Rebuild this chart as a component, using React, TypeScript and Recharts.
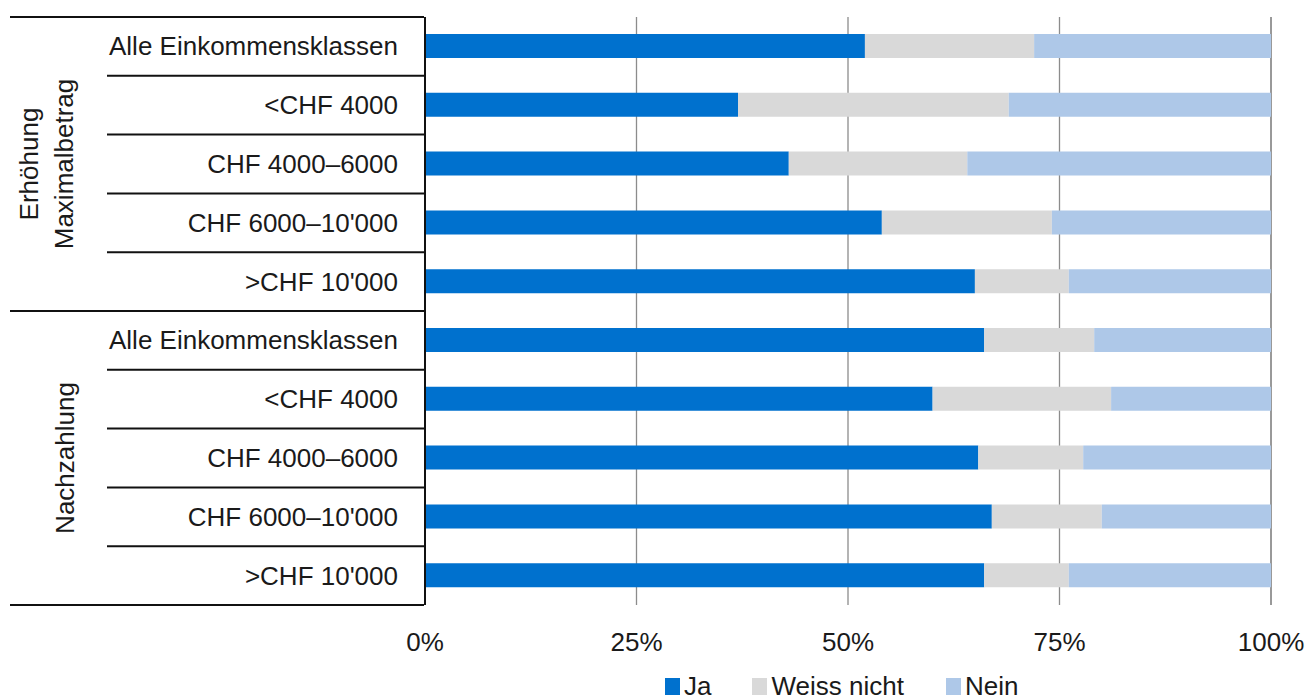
import React from "react";
import { BarChart, Bar, XAxis, YAxis, CartesianGrid, Legend } from "recharts";

const categories = [
  "Alle Einkommensklassen",
  "<CHF 4000",
  "CHF 4000–6000",
  "CHF 6000–10'000",
  ">CHF 10'000",
  "Alle Einkommensklassen",
  "<CHF 4000",
  "CHF 4000–6000",
  "CHF 6000–10'000",
  ">CHF 10'000",
];
const groupLabels = [["Erhöhung", "Maximalbetrag"], ["Nachzahlung"]];
const ja = [52, 37, 43, 54, 65, 66.1, 60, 65.4, 67, 66.1];
const weissNicht = [20, 32, 21.1, 20.1, 11.1, 13, 21.1, 12.4, 13, 10];
const nein = [28, 31, 35.9, 25.9, 23.9, 20.9, 18.9, 22.2, 20, 23.9];
const xTicks = [0, 25, 50, 75, 100];
const seriesNames = ["Ja", "Weiss nicht", "Nein"];
const seriesColors = ["#0071CE", "#D9D9D9", "#AEC8E8"];

const data = categories.map((c, i) => ({
  key: "r" + i,
  label: c,
  ja: ja[i],
  weiss: weissNicht[i],
  nein: nein[i],
}));

const FONT = "'Liberation Sans', Arial, sans-serif";
const FS = 26;
const BAND = 58.8;
const legendGaps = [41, 42, 0];

const YTick = (props: any) => {
  const { x, y, index } = props;
  const i = index ?? props.payload?.index ?? 0;
  const label = categories[i];
  const half = BAND / 2;
  const els: any[] = [];
  if (i === 0) {
    els.push(<line key="top" x1={10} x2={x + 1} y1={y - half} y2={y - half} stroke="#111" strokeWidth={2} />);
  }
  const groupEnd = i === 4 || i === 9;
  els.push(
    <line key="bot" x1={groupEnd ? 10 : 107} x2={x + 1} y1={y + half} y2={y + half} stroke="#111" strokeWidth={2} />
  );
  els.push(
    <text key="t" x={398} y={y + 9} textAnchor="end" fontSize={FS} fill="#1a1a1a" fontFamily={FONT}>
      {label}
    </text>
  );
  if (i === 2 || i === 7) {
    const lines = groupLabels[i === 2 ? 0 : 1];
    const cx = lines.length === 2 ? 47 : 65;
    els.push(
      <text
        key="g"
        transform={`translate(${cx}, ${y}) rotate(-90)`}
        textAnchor="middle"
        fontSize={FS}
        fill="#1a1a1a"
        fontFamily={FONT}
      >
        {lines.map((l, k) => (
          <tspan key={k} x={0} dy={k === 0 ? (lines.length === 2 ? -9 : 9) : 35}>
            {l}
          </tspan>
        ))}
      </text>
    );
  }
  return <g>{els}</g>;
};

const XTick = (props: any) => {
  const { x, y, payload } = props;
  return (
    <text x={x} y={y + 44} textAnchor="middle" fontSize={FS} fill="#1a1a1a" fontFamily={FONT}>
      {payload.value}%
    </text>
  );
};

const LegendContent = () => (
  <div style={{ width: 1309, height: 34, position: "relative", fontFamily: FONT }}>
    <div style={{ position: "absolute", left: 665, top: 7, display: "flex", alignItems: "center" }}>
      {seriesNames.map((n, i) => (
        <div key={n} style={{ display: "flex", alignItems: "center", marginRight: legendGaps[i] }}>
          <div style={{ width: 15, height: 17, background: seriesColors[i], marginRight: 4 }} />
          <span style={{ fontSize: FS, color: "#1a1a1a", lineHeight: "28px" }}>{n}</span>
        </div>
      ))}
    </div>
  </div>
);

export default function App() {
  return (
    <div style={{ position: "absolute", left: 0, top: 0, width: 1309, height: 699, background: "#fff" }}>
      <BarChart
        width={1309}
        height={699}
        data={data}
        layout="vertical"
        margin={{ top: 17, right: 38, left: 0, bottom: 0 }}
        barSize={24}
      >
        <CartesianGrid horizontal={false} vertical={true} stroke="#8c8c8c" strokeWidth={1.3} />
        <XAxis
          type="number"
          domain={[0, 100]}
          ticks={xTicks}
          axisLine={false}
          tickLine={false}
          tickSize={0}
          height={60}
          tick={<XTick />}
          interval={0}
        />
        <YAxis
          type="category"
          dataKey="key"
          width={425}
          axisLine={{ stroke: "#111", strokeWidth: 2 }}
          tickLine={false}
          tickSize={0}
          tick={<YTick />}
          interval={0}
        />
        <Legend verticalAlign="bottom" height={34} content={<LegendContent />} wrapperStyle={{ left: 0, width: 1309 }} />
        <Bar dataKey="ja" stackId="a" name={seriesNames[0]} fill={seriesColors[0]} isAnimationActive={false} />
        <Bar dataKey="weiss" stackId="a" name={seriesNames[1]} fill={seriesColors[1]} isAnimationActive={false} />
        <Bar dataKey="nein" stackId="a" name={seriesNames[2]} fill={seriesColors[2]} isAnimationActive={false} />
      </BarChart>
    </div>
  );
}
